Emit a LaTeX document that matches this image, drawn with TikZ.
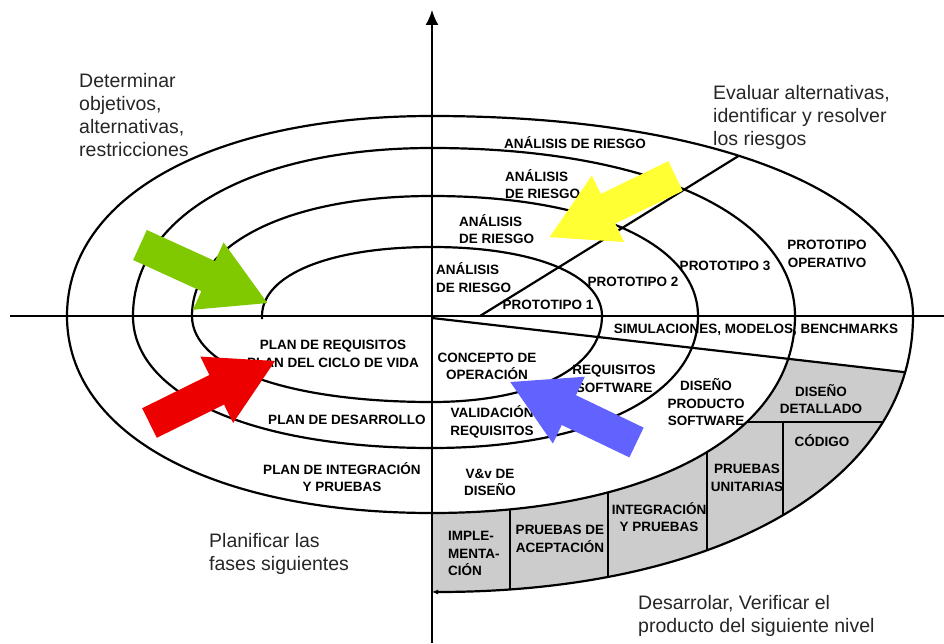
\documentclass[tikz,border=0pt]{standalone}
\usepackage{fontspec}
\setmainfont{Liberation Sans}
\usetikzlibrary{arrows.meta}
\definecolor{arrgreen}{RGB}{128,200,0}
\definecolor{arrred}{RGB}{236,0,0}
\definecolor{arryellow}{RGB}{255,255,51}
\definecolor{arrblue}{RGB}{98,98,255}
\newcommand{\phasefont}{\fontsize{13.5}{17.5}\selectfont\bfseries}
\newcommand{\notefont}{\fontsize{19.5}{23}\selectfont}
\newcommand{\bigarrow}[3]{%
  \fill[#1,shift={#2},rotate=#3] (0,-16.5) -- (75,-16.5) -- (75,-37) -- (140,0)
    -- (75,37) -- (75,16.5) -- (0,16.5) -- cycle;}
\tikzset{phase/.style={font=\phasefont, align=center, inner sep=0pt},
note/.style={font=\notefont, text=black!85, align=left, inner sep=0pt, anchor=north west},
axis/.style={line width=1.8pt},
turn/.style={line width=2.2pt},
band/.style={fill=black!20},
>={Latex[length=15pt,width=13pt]}}

\begin{document}
\begin{tikzpicture}[x=1pt,y=1pt]
  \useasboundingbox (-432,-327) rectangle (512,316);
  \coordinate (ybot) at (0,-327);
  \coordinate (ytop) at (0,306);
  \coordinate (xleft) at (-422,0);
  \coordinate (xright) at (512,0);
  % gray band of the last turn
  \begin{scope}
    \clip (0,-2) -- (560,-66.2) -- (560,-340) -- (0,-340) -- cycle;
    \clip (481,0) .. controls (481,-165.6) and (288.6,-276) .. (0,-276)
      -- (0,-197) .. controls (217.8,-197) and (363,-118.2) .. (363,0) -- cycle;
    \fill[band] (-10,10) rectangle (520,-340);
    \draw[turn] (250,-106) -- (520,-106);
    \draw[turn] (351,-106) -- (351,-330);
    \foreach \x in {275,176,78}
      \draw[turn] (\x,-60) -- (\x,-330);
  \end{scope}
  % axes
  \draw[axis,->] (ybot) -- (ytop);
  \draw[axis] (xleft) -- (xright);
  % spiral
  \draw[turn,-{Latex[length=6pt,width=5pt]}] (-170,-3) -- (-170,0)
    .. controls (-170,41.4) and (-102,69) .. (0,69)
    .. controls (102,69) and (170,41.4) .. (170,0)
    .. controls (170,-51.6) and (102,-86) .. (0,-86)
    .. controls (-144,-86) and (-240,-51.6) .. (-240,0)
    .. controls (-240,72) and (-144,120) .. (0,120)
    .. controls (159.6,120) and (266,72) .. (266,0)
    .. controls (266,-79.2) and (159.6,-132) .. (0,-132)
    .. controls (-179.4,-132) and (-299,-79.2) .. (-299,0)
    .. controls (-299,100.8) and (-179.4,168) .. (0,168)
    .. controls (217.8,168) and (363,100.8) .. (363,0)
    .. controls (363,-118.2) and (217.8,-197) .. (0,-197)
    .. controls (-219,-197) and (-365,-118.2) .. (-365,0)
    .. controls (-365,120) and (-219,200) .. (0,200)
    .. controls (288.6,200) and (481,120) .. (481,0)
    .. controls (481,-165.6) and (288.6,-276) .. (0,-276);
  \draw[turn] (0,-2) -- (473,-56.2);
  \draw[turn] (48,0) -- (306.5,160);
  % phases
  \node[phase] (ar4) at (143,173.5) {ANÁLISIS DE RIESGO};
  \node[phase, align=left, anchor=west] (ar3) at (73,132) {ANÁLISIS\\DE RIESGO};
  \node[phase, align=left, anchor=west] (ar2) at (27,87) {ANÁLISIS\\DE RIESGO};
  \node[phase, align=left, anchor=west] (ar1) at (4,38.5) {ANÁLISIS\\DE RIESGO};
  \node[phase] (p1) at (116,11) {PROTOTIPO 1};
  \node[phase] (p2) at (201,34) {PROTOTIPO 2};
  \node[phase] (p3) at (293,50.5) {PROTOTIPO 3};
  \node[phase] (po) at (395,62) {PROTOTIPO\\OPERATIVO};
  \node[phase] (sim) at (324,-14) {SIMULACIONES, MODELOS, BENCHMARKS};
  \node[phase] (co) at (55,-50.5) {CONCEPTO DE\\OPERACIÓN};
  \node[phase] (rs) at (182,-63) {REQUISITOS\\SOFTWARE};
  \node[phase] (dp) at (274,-86.5) {DISEÑO\\PRODUCTO\\SOFTWARE};
  \node[phase] (dd) at (389,-83) {DISEÑO\\DETALLADO};
  \node[phase] (cod) at (390,-125) {CÓDIGO};
  \node[phase] (vr) at (60,-106) {VALIDACIÓN\\REQUISITOS};
  \node[phase] (vv) at (58,-166.5) {V\&v DE\\DISEÑO};
  \node[phase] (pu) at (315,-162) {PRUEBAS\\UNITARIAS};
  \node[phase] (ip) at (227,-201) {INTEGRACIÓN\\Y PRUEBAS};
  \node[phase] (pa) at (128,-223) {PRUEBAS DE\\ACEPTACIÓN};
  \node[phase, align=left, anchor=west] (im) at (16,-237.5) {IMPLE-\\MENTA-\\CIÓN};
  \node[phase] (pr) at (-99,-38) {PLAN DE REQUISITOS\\PLAN DEL CICLO DE VIDA};
  \node[phase] (pd) at (-85,-104) {PLAN DE DESARROLLO};
  \node[phase] (pi) at (-90,-161) {PLAN DE INTEGRACIÓN\\Y PRUEBAS};
  % quadrants
  \node[note] (q1) at (-353,243) {Determinar\\objetivos,\\alternativas,\\restricciones};
  \node[note] (q2) at (281,231) {Evaluar alternativas,\\identificar y resolver\\los riesgos};
  \node[note] (q3) at (-223,-217) {Planificar las\\fases siguientes};
  \node[note] (q4) at (206,-279) {Desarrolar, Verificar el\\producto del siguiente nivel};
  % big arrows
  \bigarrow{arrgreen}{(-292,71)}{-24.5}
  \bigarrow{arrred}{(-282.5,-107)}{26.3}
  \bigarrow{arryellow}{(243.5,140)}{205.9}
  \bigarrow{arrblue}{(204.5,-126.5)}{154.4}
\end{tikzpicture}
\end{document}
